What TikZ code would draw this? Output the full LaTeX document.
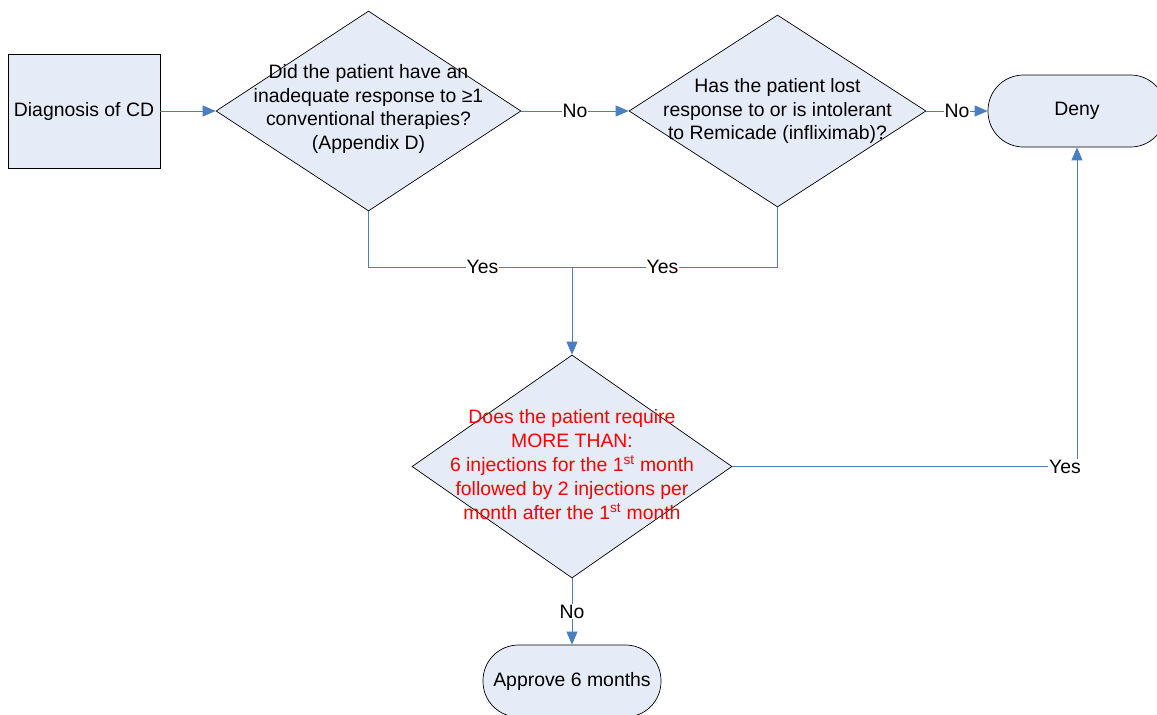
\documentclass[tikz,border=0pt]{standalone}
\usepackage{fontspec}
\setmainfont{Liberation Sans}
\usetikzlibrary{arrows.meta,positioning,shapes.geometric}
\definecolor{boxfill}{RGB}{230,236,247}
\definecolor{flowblue}{RGB}{74,126,193}
\definecolor{askred}{RGB}{255,0,0}

\begin{document}
\begin{tikzpicture}[x=1pt, y=-1pt, every node/.style={font=\fontsize{19.4}{23.5}\selectfont},
  decision/.style={draw,diamond,fill=boxfill,inner sep=0pt,line width=0.7pt},
  term/.style={draw,rounded corners=35.5pt,fill=boxfill,minimum width=178pt,minimum height=72pt,line width=0.7pt},
  link/.style={draw=flowblue,line width=0.8pt},
  flow/.style={link,-{Triangle[length=13pt,width=11pt]},color=flowblue},
  tag/.style={fill=white,inner sep=1pt}]
\useasboundingbox (0,0) rectangle (1157,715);

\node[draw,fill=boxfill,minimum width=152pt,minimum height=114pt,line width=0.7pt] (diag) at (84,111) {Diagnosis of CD};
\node[decision,minimum width=305pt,minimum height=200pt] (d1) at (368.5,111) {};
\node[align=center] (d1text) at (368.5,109) {Did the patient have an\\inadequate response to ≥1\\conventional therapies?\\(Appendix D)};
\node[decision,minimum width=297pt,minimum height=192pt] (d2) at (777.5,111) {};
\node[align=center] (d2text) at (777.5,111) {Has the patient lost\\response to or is intolerant\\to Remicade (infliximab)?};
\node[term] (deny) at (1077,111) {Deny};
\node[decision,minimum width=320pt,minimum height=223pt] (d3) at (572,466.5) {};
\node[align=center,text=askred,font=\fontsize{19.4}{24}\selectfont] (d3text) at (572,465) {Does the patient require\\MORE THAN:\\6 injections for the 1\textsuperscript{st} month\\followed by 2 injections per\\month after the 1\textsuperscript{st} month};
\node[term] (approve) at (572,681) {Approve 6 months};
\coordinate (join) at (572,267);

\draw[flow] (diag) -- (d1);
\draw[flow] (d1) -- node[tag,text=black]{No} (d2);
\draw[flow] (d2) -- node[tag,text=black]{No} (deny);
\draw[link] (d1.south) |- node[tag,pos=0.78]{Yes} (join);
\draw[link] (d2.south) |- node[tag,pos=0.78]{Yes} (join);
\draw[flow] (join) -- (d3.north);
\draw[flow] (d3.east) -| node[tag,pos=0.5,xshift=-12pt,text=black]{Yes} (deny.south);
\draw[flow] (d3.south) -- node[tag,text=black]{No} (approve.north);
\end{tikzpicture}
\end{document}
